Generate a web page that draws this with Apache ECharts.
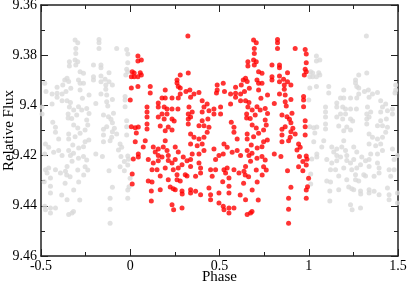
<!DOCTYPE html>
<html>
<head>
<meta charset="utf-8">
<script src="https://cdn.jsdelivr.net/npm/echarts@6/dist/echarts.min.js"></script>
<style>html,body{margin:0;padding:0;background:#fff;}#c{width:407px;height:284px;}</style>
</head>
<body>
<div id="c"></div>
<script>
// Observed points (phase 0..1): [phase, relative flux]
const observedPoints = [
[0.043,9.3803],[0.043,9.3823],[0.062,9.3819],[0.011,9.3866],[0.022,9.3871],[0.022,9.3886],[0.056,9.3870],[0.062,9.3879],
[0.006,9.3886],[0.043,9.3886],[0.006,9.3931],[0.043,9.3925],[0.112,9.3925],[0.112,9.3951],[0.196,9.3939],[0.323,9.3724],
[0.280,9.3879],[0.262,9.3899],[0.262,9.3911],[0.269,9.3925],[0.280,9.3931],[0.312,9.3945],[0.325,9.3871],[0.000,9.3978],
[0.006,9.4085],[0.028,9.4089],[0.178,9.3971],[0.196,9.3971],[0.234,9.3971],[0.269,9.3971],[0.280,9.3955],[0.157,9.3990],
[0.157,9.4006],[0.190,9.4006],[0.206,9.4014],[0.234,9.4014],[0.267,9.4014],[0.094,9.4006],[0.094,9.4026],[0.094,9.4046],
[0.178,9.4034],[0.206,9.4034],[0.157,9.4046],[0.190,9.4054],[0.234,9.4054],[0.246,9.4062],[0.325,9.4034],[0.325,9.4054],
[0.325,9.4074],[0.045,9.4086],[0.034,9.4110],[0.094,9.4074],[0.094,9.4094],[0.168,9.4082],[0.213,9.4086],[0.234,9.4098],
[0.196,9.4101],[0.028,9.4145],[0.084,9.4141],[0.073,9.4166],[0.129,9.4166],[0.157,9.4174],[0.196,9.4141],[0.185,9.4166],
[0.206,9.4180],[0.140,9.4186],[0.157,9.4200],[0.178,9.4206],[0.213,9.4200],[0.252,9.4166],[0.269,9.4186],[0.297,9.4206],
[0.045,9.4194],[0.045,9.4206],[0.011,9.4273],[0.011,9.4313],[0.101,9.4216],[0.129,9.4229],[0.157,9.4221],[0.213,9.4220],
[0.234,9.4229],[0.252,9.4216],[0.122,9.4256],[0.150,9.4256],[0.196,9.4249],[0.241,9.4256],[0.269,9.4249],[0.290,9.4236],
[0.318,9.4221],[0.308,9.4276],[0.262,9.4276],[0.168,9.4281],[0.213,9.4296],[0.262,9.4296],[0.280,9.4301],[0.101,9.4301],
[0.122,9.4305],[0.168,9.4336],[0.118,9.4341],[0.224,9.4325],[0.241,9.4332],[0.252,9.4336],[0.290,9.4341],[0.291,9.4353],
[0.118,9.4381],[0.234,9.4396],[0.243,9.4416],[0.290,9.4409],[0.318,9.4281],[0.385,9.3949],[0.487,9.3919],[0.521,9.3912],
[0.528,9.3945],[0.487,9.3939],[0.483,9.3951],[0.590,9.3928],[0.622,9.3919],[0.633,9.3899],[0.646,9.3892],[0.655,9.3905],
[0.659,9.3826],[0.659,9.3843],[0.640,9.3945],[0.667,9.3932],[0.590,9.3952],[0.334,9.3939],[0.338,9.3968],[0.357,9.3955],
[0.329,9.4006],[0.347,9.4026],[0.338,9.4046],[0.403,9.3981],[0.413,9.4006],[0.403,9.4026],[0.431,9.3994],[0.441,9.4021],
[0.469,9.4014],[0.469,9.4034],[0.435,9.4054],[0.403,9.4061],[0.385,9.4081],[0.413,9.4081],[0.506,9.4006],[0.506,9.4034],
[0.562,9.3994],[0.562,9.3955],[0.590,9.3968],[0.618,9.3955],[0.646,9.3981],[0.618,9.3981],[0.665,9.3988],[0.659,9.4006],
[0.652,9.4034],[0.652,9.4050],[0.566,9.4067],[0.581,9.4087],[0.581,9.4107],[0.599,9.4134],[0.655,9.4114],[0.655,9.4134],
[0.338,9.4114],[0.357,9.4127],[0.385,9.4134],[0.413,9.4127],[0.431,9.4107],[0.441,9.4087],[0.338,9.4154],[0.375,9.4161],
[0.403,9.4154],[0.347,9.4194],[0.385,9.4194],[0.413,9.4180],[0.469,9.4174],[0.497,9.4200],[0.525,9.4154],[0.543,9.4167],
[0.521,9.4194],[0.571,9.4187],[0.599,9.4180],[0.618,9.4200],[0.655,9.4180],[0.665,9.4200],[0.338,9.4216],[0.338,9.4243],
[0.385,9.4229],[0.394,9.4249],[0.394,9.4269],[0.366,9.4282],[0.450,9.4256],[0.478,9.4256],[0.459,9.4282],[0.478,9.4216],
[0.525,9.4256],[0.534,9.4269],[0.543,9.4249],[0.581,9.4256],[0.609,9.4269],[0.637,9.4262],[0.646,9.4243],[0.674,9.4223],
[0.553,9.4289],[0.338,9.4336],[0.338,9.4349],[0.366,9.4342],[0.394,9.4356],[0.441,9.4329],[0.450,9.4356],[0.450,9.4376],
[0.497,9.4349],[0.553,9.4322],[0.553,9.4349],[0.497,9.4389],[0.521,9.4402],[0.525,9.4416],[0.553,9.4409],[0.553,9.4429],
[0.581,9.4409],[0.646,9.4376],[0.655,9.4435],[0.674,9.4429],[0.691,9.3739],[0.706,9.3750],[0.695,9.3773],[0.695,9.3793],
[0.691,9.3819],[0.706,9.3826],[0.695,9.3839],[0.719,9.3866],[0.738,9.3872],[0.710,9.3899],[0.719,9.3912],[0.738,9.3912],
[0.719,9.3939],[0.769,9.3959],[0.732,9.3972],[0.710,9.4005],[0.756,9.4012],[0.769,9.4032],[0.672,9.4052],[0.728,9.4018],
[0.747,9.4098],[0.719,9.4111],[0.691,9.4125],[0.825,9.3737],[0.825,9.3750],[0.825,9.3773],[0.924,9.3773],[0.980,9.3777],
[0.986,9.3795],[0.986,9.3830],[0.980,9.3856],[0.986,9.3866],[0.975,9.3879],[0.794,9.3839],[0.836,9.3839],[0.836,9.3850],
[0.794,9.3886],[0.794,9.3899],[0.836,9.3883],[0.859,9.3896],[0.881,9.3870],[0.836,9.3906],[0.863,9.3919],[0.881,9.3906],
[0.900,9.3919],[0.863,9.3936],[0.836,9.3955],[0.868,9.3959],[0.900,9.3976],[0.807,9.3992],[0.868,9.3985],[0.874,9.4002],
[0.971,9.3965],[0.971,9.3978],[0.971,9.4005],[0.906,9.4031],[0.850,9.4038],[0.878,9.4045],[0.892,9.4055],[0.900,9.4069],
[0.980,9.4061],[0.911,9.4091],[0.868,9.4085],[0.850,9.4095],[0.900,9.4105],[0.980,9.4085],[0.850,9.4118],[0.896,9.4127],
[0.924,9.4114],[0.980,9.4118],[0.850,9.4145],[0.887,9.4141],[0.943,9.4154],[0.952,9.4167],[0.934,9.4178],[0.807,9.4194],
[0.844,9.4204],[0.948,9.4204],[0.986,9.4202],[0.990,9.4215],[0.967,9.4224],[0.986,9.4237],[0.943,9.4244],[0.967,9.4260],
[0.881,9.4260],[0.999,9.4290],[0.900,9.4326],[0.993,9.4324],[0.986,9.4337],[0.887,9.4370],[0.986,9.4370],[0.887,9.4414],
[0.887,9.4470],[0.747,9.4145],[0.738,9.4165],[0.682,9.4191],[0.710,9.4211],[0.738,9.4204],[0.747,9.4244],[0.644,9.4277],
[0.635,9.4310],[0.663,9.4284],[0.682,9.4423],[0.616,9.4357],[0.518,9.4304],[0.756,9.4058],[0.762,9.4078],[0.768,9.4138],
[0.756,9.4218],[0.762,9.4257],[0.739,9.4277],[0.706,9.4257],[0.711,9.4305],[0.683,9.4337],[0.717,9.4377],[0.683,9.4018],
[0.700,9.4038],[0.683,9.4078],[0.706,9.4090],[0.678,9.4158],[0.711,9.4170],[0.017,9.4214]
];
const xTickLabels = ['-0.5', '0', '0.5', '1', '1.5'];
const yTickLabels = ['9.36', '9.38', '9.4', '9.42', '9.44', '9.46'];
const xMin = -0.5, xMax = 1.5, xStep = 0.5;
const yMin = 9.36, yMax = 9.46, yStep = 0.02;

// Phase-folded repeats of the same observations (one cycle earlier / later)
const earlierCycle = observedPoints.filter(p => p[0] >= 0.5).map(p => [p[0] - 1, p[1]]);
const laterCycle = observedPoints.filter(p => p[0] < 0.5).map(p => [p[0] + 1, p[1]]);

const font = 'Liberation Serif';
const axisColor = '#222';
function xFmt(v) { const i = Math.round((v - xMin) / xStep); return xTickLabels[i] || ''; }
function yFmt(v) { const i = Math.round((v - yMin) / yStep); return yTickLabels[i] || ''; }

function xAxisDef(pos, show) {
  return {
    type: 'value', position: pos, min: xMin, max: xMax, interval: xStep,
    axisLine: { show: true, onZero: false, lineStyle: { color: axisColor, width: 1.5 } },
    axisTick: { show: true, inside: true, length: 7, lineStyle: { color: axisColor, width: 1 } },
    minorTick: { show: true, splitNumber: 2, length: 4, lineStyle: { color: axisColor, width: 1 } },
    splitLine: { show: false },
    axisLabel: { show: show, formatter: xFmt, color: '#000', fontFamily: font, fontSize: 14, margin: 3, hideOverlap: false },
    name: show ? 'Phase' : '', nameLocation: 'middle', nameGap: 14, nameMoveOverlap: false,
    nameTextStyle: { color: '#000', fontFamily: font, fontSize: 15 }
  };
}
function yAxisDef(pos, show) {
  return {
    type: 'value', position: pos, min: yMin, max: yMax, interval: yStep, inverse: true,
    axisLine: { show: true, onZero: false, lineStyle: { color: axisColor, width: 1.5 } },
    axisTick: { show: true, inside: true, length: 7, lineStyle: { color: axisColor, width: 1 } },
    minorTick: { show: true, splitNumber: 2, length: 4, lineStyle: { color: axisColor, width: 1 } },
    splitLine: { show: false },
    axisLabel: { show: show, formatter: yFmt, color: '#000', fontFamily: font, fontSize: 14, margin: 4, hideOverlap: false },
    name: show ? 'Relative Flux' : '', nameLocation: 'middle', nameGap: 24, nameMoveOverlap: false,
    nameTextStyle: { color: '#000', fontFamily: font, fontSize: 15 }
  };
}

const chart = echarts.init(document.getElementById('c'), null, { renderer: 'canvas' });
chart.setOption({
  animation: false,
  backgroundColor: '#fff',
  grid: { left: 41, right: 9, top: 5, bottom: 28, containLabel: false, outerBoundsMode: 'none' },
  xAxis: [xAxisDef('bottom', true), xAxisDef('top', false)],
  yAxis: [yAxisDef('left', true), yAxisDef('right', false)],
  series: [
    { type: 'scatter', data: earlierCycle, symbol: 'circle', symbolSize: 5, itemStyle: { color: '#d9d9d9' }, silent: true },
    { type: 'scatter', data: laterCycle, symbol: 'circle', symbolSize: 5, itemStyle: { color: '#d9d9d9' }, silent: true },
    { type: 'scatter', data: observedPoints, symbol: 'circle', symbolSize: 5, itemStyle: { color: '#ff0000' }, silent: true }
  ]
});
</script>
</body>
</html>
